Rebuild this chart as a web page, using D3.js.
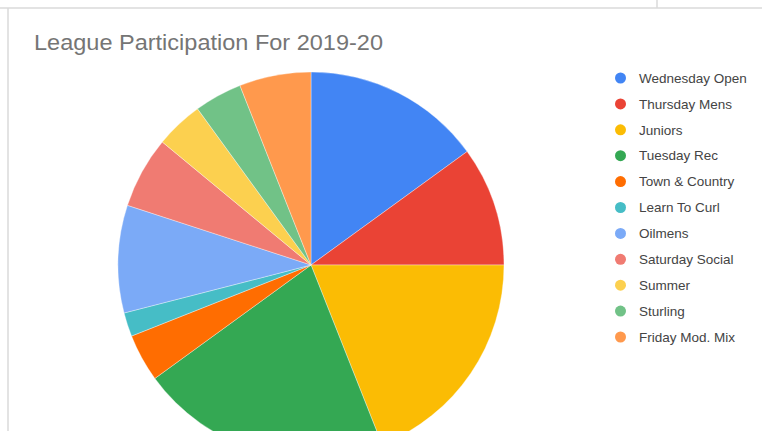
<!DOCTYPE html>
<html><head><meta charset="utf-8">
<script src="https://cdn.jsdelivr.net/npm/d3@7"></script>
<style>html,body{margin:0;padding:0;background:#fff;}svg{display:block;}</style>
</head><body>
<svg id="c" width="762" height="431"></svg>
<script>
const title = "League Participation For 2019-20";
const categories = ["Wednesday Open","Thursday Mens","Juniors","Tuesday Rec","Town & Country","Learn To Curl","Oilmens","Saturday Social","Summer","Sturling","Friday Mod. Mix"];
const values = [15,10,19,21,4,2,9,6,4,4,6];
const colors = ["#4285f4","#ea4335","#fbbc04","#34a853","#ff6d01","#46bdc6","#7baaf7","#f07b72","#fcd04f","#71c287","#ff994d"];

const svg = d3.select("#c");
// frame lines
svg.append("line").attr("x1",0).attr("x2",762).attr("y1",8).attr("y2",8).attr("stroke","#dadada").attr("stroke-width",1.5);
svg.append("line").attr("x1",8).attr("x2",8).attr("y1",8).attr("y2",431).attr("stroke","#dadada").attr("stroke-width",1.5);
svg.append("line").attr("x1",657).attr("x2",657).attr("y1",0).attr("y2",8).attr("stroke","#dadada").attr("stroke-width",1.5);

svg.append("text").attr("x",34).attr("y",50).text(title)
  .attr("font-family","Liberation Sans, Arial, sans-serif").attr("font-size",22).attr("fill","#757575")
  .attr("textLength",349).attr("lengthAdjust","spacingAndGlyphs");

const color = d3.scaleOrdinal().domain(categories).range(colors);
const data = categories.map((c,i)=>({name:c,value:values[i]}));
const pie = d3.pie().value(d=>d.value).sort(null);
const arc = d3.arc().innerRadius(0).outerRadius(193);
const g = svg.append("g").attr("transform","translate(311,265)");
g.selectAll("path").data(pie(data)).join("path")
  .attr("d",arc).attr("fill",d=>color(d.data.name))
  .attr("stroke","#ffffff").attr("stroke-opacity",0.5).attr("stroke-width",0.7);

const y = d3.scalePoint().domain(categories).range([78,337]);
const lg = svg.append("g");
const items = lg.selectAll("g").data(categories).join("g").attr("transform",d=>`translate(0,${y(d)})`);
items.append("circle").attr("cx",620.5).attr("cy",0).attr("r",5.5).attr("fill",d=>color(d));
items.append("text").attr("x",639).attr("y",4.7).text(d=>d)
  .attr("font-family","Liberation Sans, Arial, sans-serif").attr("font-size",13.5).attr("fill","#444");
</script>
</body></html>
